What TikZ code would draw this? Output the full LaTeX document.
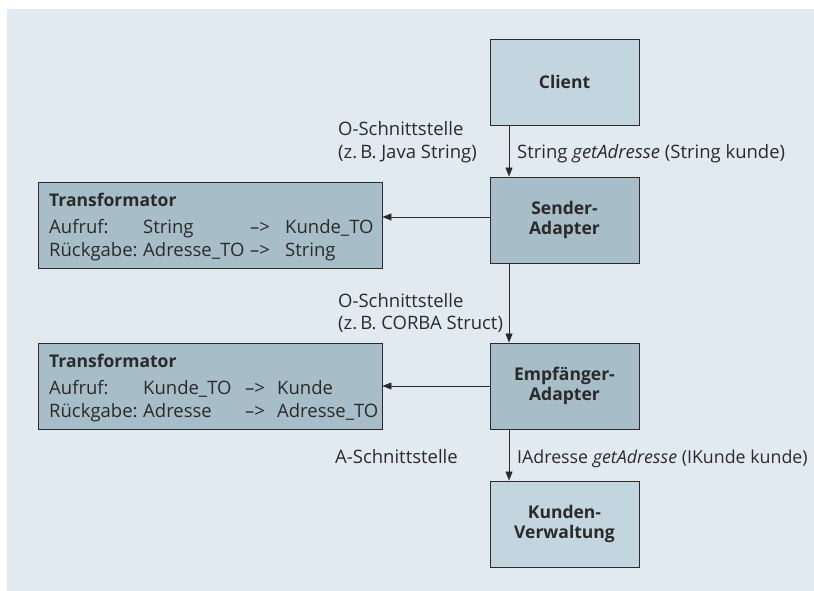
\documentclass[tikz,border=0pt]{standalone}
\usepackage{fontspec}
\setmainfont{Open Sans}
\usetikzlibrary{arrows.meta}
\definecolor{panel}{HTML}{E2EAF1}
\definecolor{boxlight}{HTML}{C3D5DE}
\definecolor{boxdark}{HTML}{A7BDC8}
\definecolor{ink}{HTML}{2A2A2A}
% one row of a transformer table: four cells at fixed column widths
\newcommand{\trafoline}[7]{\makebox[#1][l]{#4}\makebox[#2][l]{#5}\makebox[#3][l]{#6}#7}
\begin{document}
\begin{tikzpicture}[x=1pt,y=-1pt,
  every node/.style={text=ink,font=\fontsize{18.5}{22}\selectfont},
  unit/.style={draw=ink,line width=0.9pt,minimum width=149pt,minimum height=86pt,
    inner sep=0pt,align=center,font=\fontsize{17.5}{20.5}\selectfont\bfseries},
  lightbox/.style={unit,fill=boxlight},
  darkbox/.style={unit,fill=boxdark},
  trafo/.style={draw=ink,line width=0.9pt,fill=boxdark,minimum width=344pt,
    minimum height=86pt,inner sep=0pt},
  label/.style={inner sep=0pt,anchor=base west},
  heading/.style={label,font=\fontsize{17.5}{22}\selectfont\bfseries},
  flow/.style={draw=ink,line width=0.8pt,-{Triangle[length=9pt,width=7pt]}}
]
% canvas and panel
\useasboundingbox (0,0) rectangle (814,591);
\fill[white] (0,0) rectangle (814,591);
\fill[panel] (7,9) rectangle (814,591);

% components
\node[lightbox] (client)  at (564.5,82)  {Client};
\node[darkbox]  (sender)  at (564.5,220) {Sender-\\Adapter};
\node[darkbox]  (receiver) at (564.5,386) {Empfänger-\\Adapter};
\node[lightbox] (customers) at (564.5,524) {Kunden-\\Verwaltung};

% transformers
\node[trafo] (t1) at (210,225) {};
\node[heading] (t1h) at (49,206) {Transformator};
\node[label] (t1a) at (49,233) {\trafoline{94pt}{107pt}{35pt}{Aufruf:}{String}{–>}{Kunde\_TO}};
\node[label] (t1b) at (49,256) {\trafoline{94pt}{107pt}{35pt}{Rückgabe:}{Adresse\_TO}{–>}{String}};

\node[trafo] (t2) at (210,386) {};
\node[heading] (t2h) at (49,367) {Transformator};
\node[label] (t2a) at (49,394) {\trafoline{94pt}{102pt}{32pt}{Aufruf:}{Kunde\_TO}{–>}{Kunde}};
\node[label] (t2b) at (49,417) {\trafoline{94pt}{102pt}{32pt}{Rückgabe:}{Adresse}{–>}{Adresse\_TO}};

% interface labels
\node[label] (o1a) at (338,136) {O-Schnittstelle};
\node[label] (o1b) at (338,158) {(z.\,B. Java String)};
\node[label] (m1)  at (517,158) {String \textit{getAdresse} (String kunde)};
\node[label] (o2a) at (338,307) {O-Schnittstelle};
\node[label] (o2b) at (338,329) {(z.\,B. CORBA Struct)};
\node[label] (a1)  at (335,463) {A-Schnittstelle};
\node[label,font=\fontsize{17.8}{22}\selectfont] (m2) at (517,463)
  {IAdresse \textit{getAdresse} (IKunde kunde)};

% connectors
\draw[flow] ([xshift=19.5pt]client.south west) -- ([xshift=19.5pt]sender.north west);
\draw[flow] ([xshift=19.5pt]sender.south west) -- ([xshift=19.5pt]receiver.north west);
\draw[flow] ([xshift=19.5pt]receiver.south west) -- ([xshift=19.5pt]customers.north west);
\draw[flow] ([yshift=3pt]sender.west) -- ([yshift=3pt]sender.west -| t1.east);
\draw[flow] (receiver.west) -- (receiver.west -| t2.east);
\end{tikzpicture}
\end{document}
